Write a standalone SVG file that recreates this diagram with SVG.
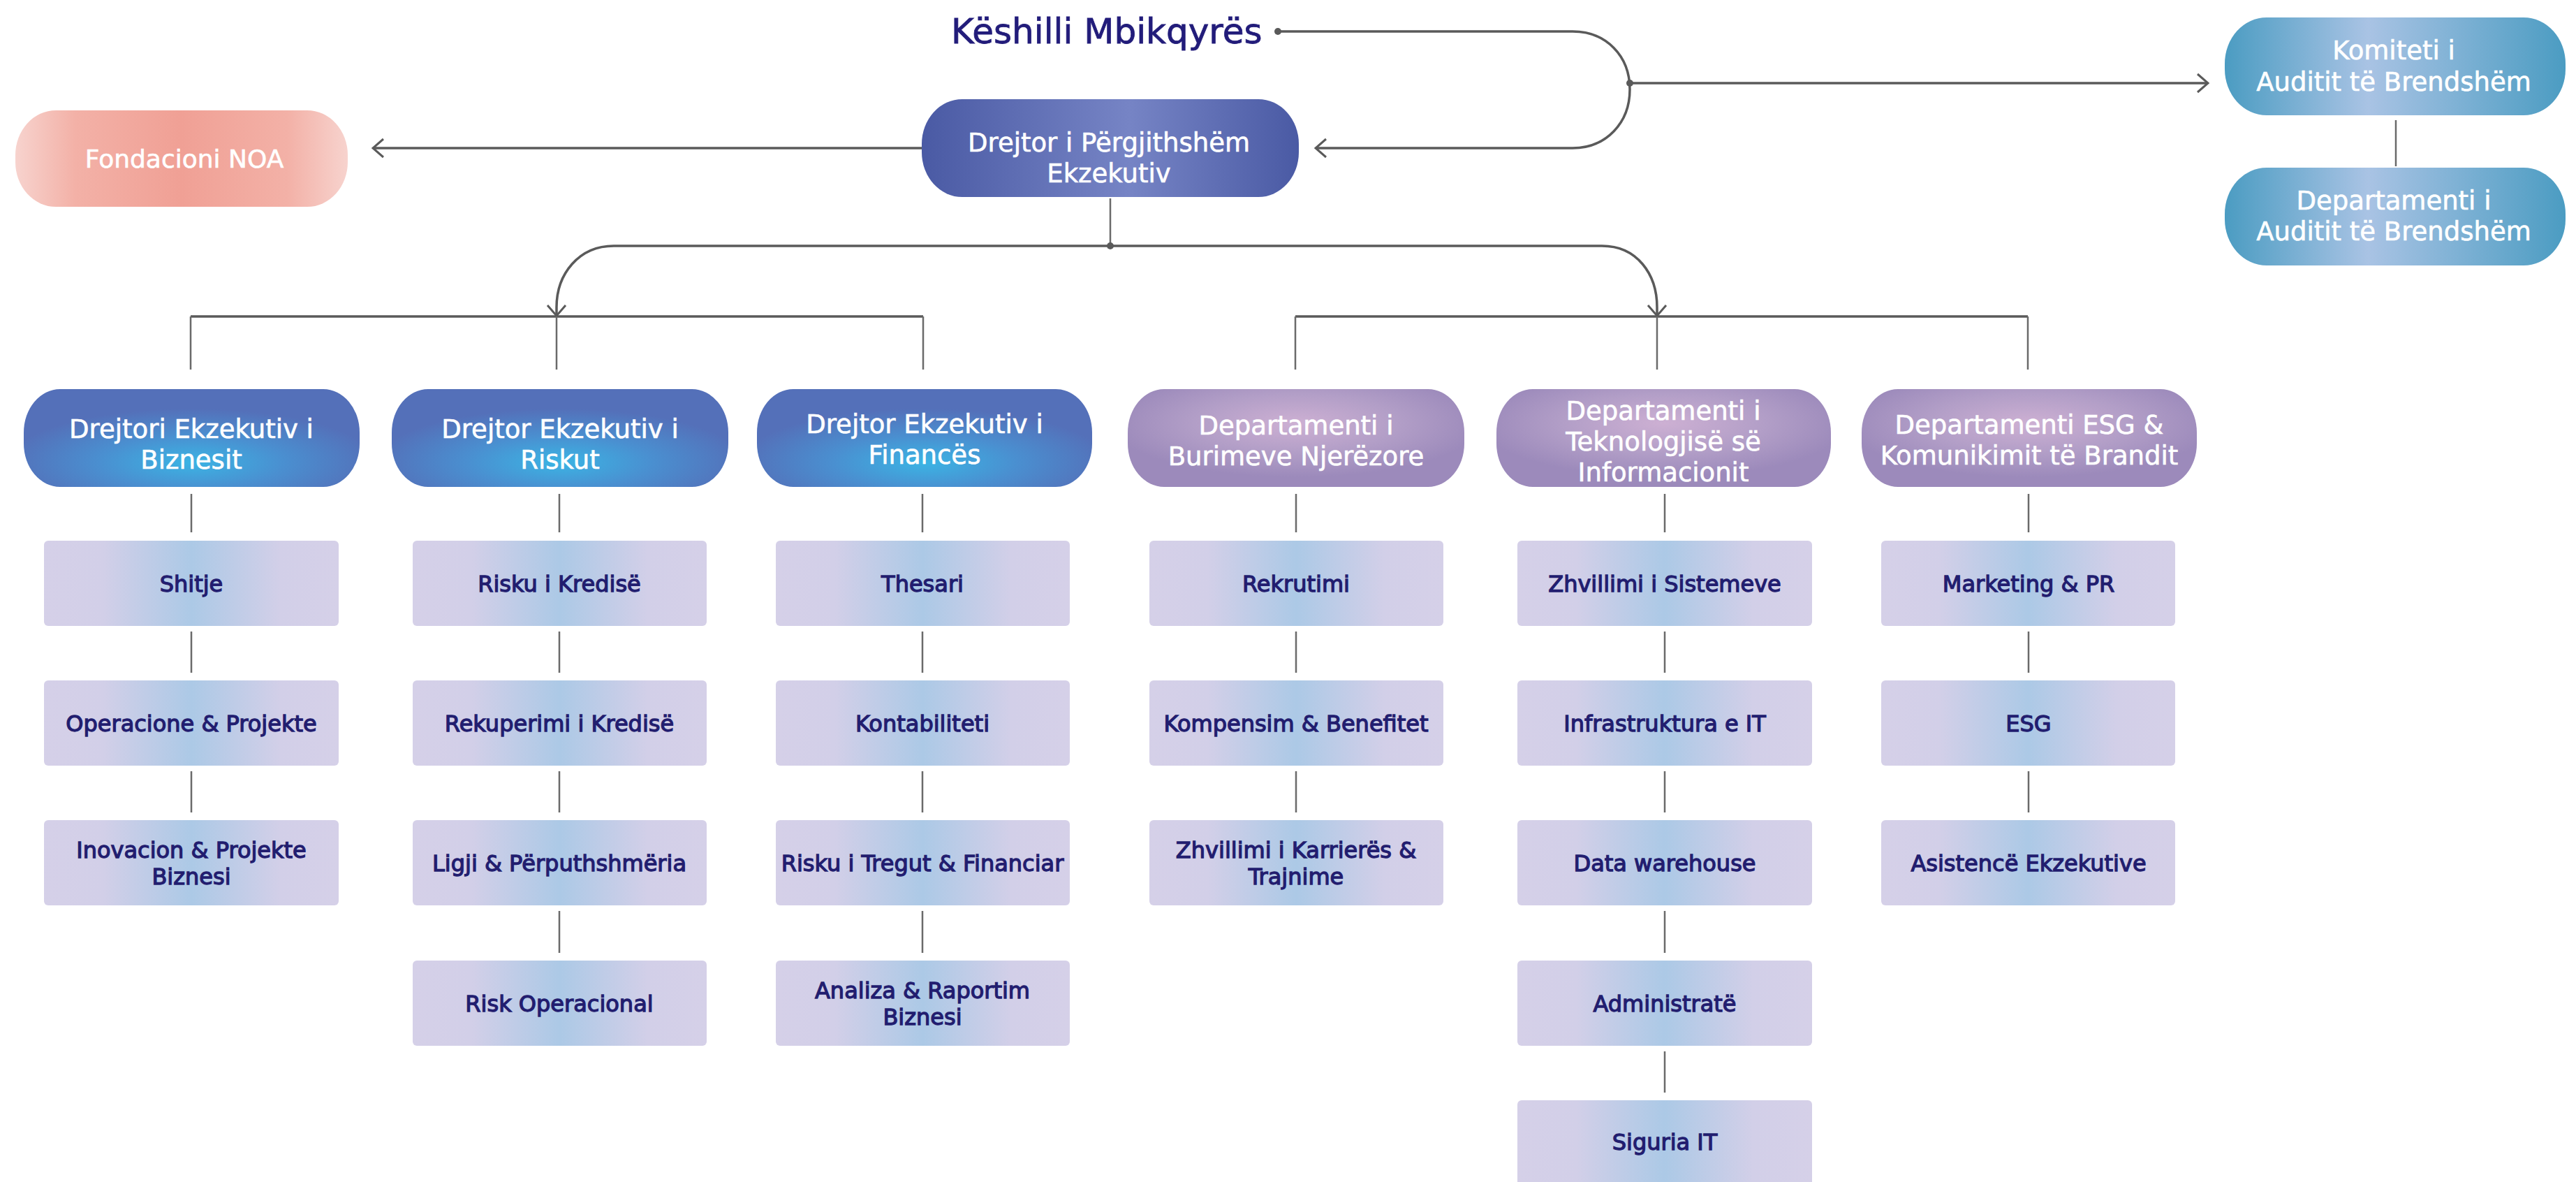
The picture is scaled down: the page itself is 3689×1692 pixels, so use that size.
<svg xmlns="http://www.w3.org/2000/svg" width="3689" height="1692" viewBox="0 0 3689 1692">
<style>
text{font-family:"DejaVu Sans","Liberation Sans",sans-serif;text-anchor:middle}
.wt{font-size:37px;fill:#ffffff;stroke:#ffffff;stroke-width:0.6}
.nt{font-size:32px;fill:#221d6f;stroke:#221d6f;stroke-width:1.3}
.title{font-size:50px;fill:#221c7a;stroke:#221c7a;stroke-width:0.8;text-anchor:start}
.ln{stroke:#5a5a5a;stroke-width:3.5;fill:none}
.tk{stroke:#6a6a6a;stroke-width:2.5;fill:none}
.l3{fill:url(#gL3)}
.b2{fill:url(#gBlue2)}
.p2{fill:url(#gPurp)}
</style>
<defs>
<linearGradient id="gL3" x1="0" y1="0" x2="1" y2="0">
<stop offset="0" stop-color="#d5d0e8"/>
<stop offset="0.2" stop-color="#d2cfe8"/>
<stop offset="0.5" stop-color="#acc9e6"/>
<stop offset="0.8" stop-color="#d2cfe8"/>
<stop offset="1" stop-color="#d5d0e8"/>
</linearGradient>
<radialGradient id="gBlue2" cx="0.5" cy="0.75" r="0.55">
<stop offset="0" stop-color="#3bb4e4"/>
<stop offset="0.5" stop-color="#4a8fd0"/>
<stop offset="1" stop-color="#5470b9"/>
</radialGradient>
<radialGradient id="gPurp" cx="0.5" cy="0.35" r="0.55">
<stop offset="0" stop-color="#cdb0d3"/>
<stop offset="0.55" stop-color="#b29ec7"/>
<stop offset="1" stop-color="#9c8abb"/>
</radialGradient>
<linearGradient id="gDark" x1="0" y1="0" x2="1" y2="0">
<stop offset="0" stop-color="#4a5aa4"/>
<stop offset="0.55" stop-color="#7684c5"/>
<stop offset="1" stop-color="#4a5aa4"/>
</linearGradient>
<linearGradient id="gTeal" x1="0" y1="0" x2="1" y2="0">
<stop offset="0" stop-color="#4b9cc2"/>
<stop offset="0.42" stop-color="#a9c3e4"/>
<stop offset="1" stop-color="#4b9cc2"/>
</linearGradient>
<linearGradient id="gSalmon" x1="0" y1="0" x2="1" y2="0">
<stop offset="0" stop-color="#f7d3ce"/>
<stop offset="0.18" stop-color="#f3b1a7"/>
<stop offset="0.5" stop-color="#f0a095"/>
<stop offset="0.82" stop-color="#f3b1a7"/>
<stop offset="1" stop-color="#f7d3ce"/>
</linearGradient>
<marker id="chev" viewBox="-18 -16 20 32" markerWidth="20" markerHeight="32" refX="0" refY="0" orient="auto" markerUnits="userSpaceOnUse">
<path d="M-15,-13 L0,0 L-15,13" fill="none" stroke="#5a5a5a" stroke-width="3"/>
</marker>
</defs>
<rect width="3689" height="1692" fill="#ffffff"/>

<g id="connectors">
<path class="ln" d="M1830,45 H2252 C2300,45 2334,80 2334,128 C2334,176 2300,212 2252,212 H1884" marker-end="url(#chev)"/>
<circle cx="1830" cy="45" r="5" fill="#5a5a5a"/>
<path class="ln" d="M2334,119 H3162" marker-end="url(#chev)"/>
<circle cx="2334" cy="119" r="5" fill="#5a5a5a"/>
<path class="tk" d="M3431,172 V238"/>
<path class="ln" d="M1320,212 H534" marker-end="url(#chev)"/>
<path class="tk" d="M1590,284 V352"/>
<path class="ln" d="M879,352 H2294"/>
<circle cx="1590" cy="352" r="5" fill="#5a5a5a"/>
<path class="ln" d="M879,352 C829,352 797,392 797,440 V452" marker-end="url(#chev)"/>
<path class="ln" d="M2294,352 C2344,352 2373,392 2373,440 V452" marker-end="url(#chev)"/>
<path class="ln" d="M273,453 H1322"/>
<path class="ln" d="M1855,453 H2904"/>
<path class="tk" d="M273,453 V529 M797,453 V529 M1322,453 V529 M1855,453 V529 M2373,453 V529 M2904,453 V529"/>
<path class="tk" d="M274,707 V762 M801,707 V762 M1321,707 V762 M1856,707 V762 M2384,707 V762 M2905,707 V762"/>
<path class="tk" d="M274,904 V963 M274,1104 V1163"/>
<path class="tk" d="M801,904 V963 M801,1104 V1163 M801,1304 V1364"/>
<path class="tk" d="M1321,904 V963 M1321,1104 V1163 M1321,1304 V1364"/>
<path class="tk" d="M1856,904 V963 M1856,1104 V1163"/>
<path class="tk" d="M2384,904 V963 M2384,1104 V1163 M2384,1304 V1364 M2384,1505 V1564"/>
<path class="tk" d="M2905,904 V963 M2905,1104 V1163"/>
</g>

<g id="keshilli">
<text class="title" x="1362" y="62">Këshilli Mbikqyrës</text>
</g>

<g id="drejtor-pergjithshem">
<rect x="1320" y="142" width="540" height="140" rx="58" ry="64" fill="url(#gDark)"/>
<text class="wt" x="1588" y="217">Drejtor i Përgjithshëm<tspan x="1588" dy="44">Ekzekutiv</tspan></text>
</g>

<g id="fondacioni">
<rect x="22" y="158" width="476" height="138" rx="58" ry="64" fill="url(#gSalmon)"/>
<text class="wt" x="264" y="240" style="font-size:36px">Fondacioni NOA</text>
</g>

<g id="komiteti">
<rect x="3186" y="25" width="488" height="140" rx="60" ry="66" fill="url(#gTeal)"/>
<text class="wt" x="3428" y="85">Komiteti i<tspan x="3428" dy="45">Auditit të Brendshëm</tspan></text>
</g>

<g id="dept-auditit">
<rect x="3186" y="240" width="488" height="140" rx="60" ry="66" fill="url(#gTeal)"/>
<text class="wt" x="3428" y="300">Departamenti i<tspan x="3428" dy="44">Auditit të Brendshëm</tspan></text>
</g>

<g id="dir-biznesit">
<rect class="b2" x="34" y="557" width="481" height="140" rx="52" ry="62"/>
<text class="wt" x="274" y="627">Drejtori Ekzekutiv i<tspan x="274" dy="44">Biznesit</tspan></text>
</g>
<g id="dir-riskut">
<rect class="b2" x="561" y="557" width="482" height="140" rx="52" ry="62"/>
<text class="wt" x="802" y="627">Drejtor Ekzekutiv i<tspan x="802" dy="44">Riskut</tspan></text>
</g>
<g id="dir-finances">
<rect class="b2" x="1084" y="557" width="480" height="140" rx="52" ry="62"/>
<text class="wt" x="1324" y="620">Drejtor Ekzekutiv i<tspan x="1324" dy="44">Financës</tspan></text>
</g>
<g id="dept-burimeve">
<rect class="p2" x="1615" y="557" width="482" height="140" rx="52" ry="62"/>
<text class="wt" x="1856" y="622">Departamenti i<tspan x="1856" dy="44">Burimeve Njerëzore</tspan></text>
</g>
<g id="dept-teknologjise">
<rect class="p2" x="2143" y="557" width="479" height="140" rx="52" ry="62"/>
<text class="wt" x="2382" y="601">Departamenti i<tspan x="2382" dy="44">Teknologjisë së</tspan><tspan x="2382" dy="44">Informacionit</tspan></text>
</g>
<g id="dept-esg">
<rect class="p2" x="2666" y="557" width="480" height="140" rx="52" ry="62"/>
<text class="wt" x="2906" y="621">Departamenti ESG &amp;<tspan x="2906" dy="44">Komunikimit të Brandit</tspan></text>
</g>

<g id="shitje"><rect class="l3" x="63" y="774" width="422" height="122" rx="6"/><text class="nt" x="274" y="847">Shitje</text></g>
<g id="operacione"><rect class="l3" x="63" y="974" width="422" height="122" rx="6"/><text class="nt" x="274" y="1047">Operacione &amp; Projekte</text></g>
<g id="inovacion"><rect class="l3" x="63" y="1174" width="422" height="122" rx="6"/><text class="nt" x="274" y="1228">Inovacion &amp; Projekte<tspan x="274" dy="38">Biznesi</tspan></text></g>

<g id="risku-kredise"><rect class="l3" x="591" y="774" width="421" height="122" rx="6"/><text class="nt" x="801" y="847">Risku i Kredisë</text></g>
<g id="rekuperimi"><rect class="l3" x="591" y="974" width="421" height="122" rx="6"/><text class="nt" x="801" y="1047">Rekuperimi i Kredisë</text></g>
<g id="ligji"><rect class="l3" x="591" y="1174" width="421" height="122" rx="6"/><text class="nt" x="801" y="1247">Ligji &amp; Përputhshmëria</text></g>
<g id="risk-operacional"><rect class="l3" x="591" y="1375" width="421" height="122" rx="6"/><text class="nt" x="801" y="1448">Risk Operacional</text></g>

<g id="thesari"><rect class="l3" x="1111" y="774" width="421" height="122" rx="6"/><text class="nt" x="1321" y="847">Thesari</text></g>
<g id="kontabiliteti"><rect class="l3" x="1111" y="974" width="421" height="122" rx="6"/><text class="nt" x="1321" y="1047">Kontabiliteti</text></g>
<g id="risku-tregut"><rect class="l3" x="1111" y="1174" width="421" height="122" rx="6"/><text class="nt" x="1321" y="1247">Risku i Tregut &amp; Financiar</text></g>
<g id="analiza"><rect class="l3" x="1111" y="1375" width="421" height="122" rx="6"/><text class="nt" x="1321" y="1429">Analiza &amp; Raportim<tspan x="1321" dy="38">Biznesi</tspan></text></g>

<g id="rekrutimi"><rect class="l3" x="1646" y="774" width="421" height="122" rx="6"/><text class="nt" x="1856" y="847">Rekrutimi</text></g>
<g id="kompensim"><rect class="l3" x="1646" y="974" width="421" height="122" rx="6"/><text class="nt" x="1856" y="1047">Kompensim &amp; Benefitet</text></g>
<g id="zhvillimi-karrieres"><rect class="l3" x="1646" y="1174" width="421" height="122" rx="6"/><text class="nt" x="1856" y="1228">Zhvillimi i Karrierës &amp;<tspan x="1856" dy="38">Trajnime</tspan></text></g>

<g id="zhvillimi-sistemeve"><rect class="l3" x="2173" y="774" width="422" height="122" rx="6"/><text class="nt" x="2384" y="847">Zhvillimi i Sistemeve</text></g>
<g id="infrastruktura"><rect class="l3" x="2173" y="974" width="422" height="122" rx="6"/><text class="nt" x="2384" y="1047">Infrastruktura e IT</text></g>
<g id="data-warehouse"><rect class="l3" x="2173" y="1174" width="422" height="122" rx="6"/><text class="nt" x="2384" y="1247">Data warehouse</text></g>
<g id="administrate"><rect class="l3" x="2173" y="1375" width="422" height="122" rx="6"/><text class="nt" x="2384" y="1448">Administratë</text></g>
<g id="siguria-it"><rect class="l3" x="2173" y="1575" width="422" height="122" rx="6"/><text class="nt" x="2384" y="1646">Siguria IT</text></g>

<g id="marketing"><rect class="l3" x="2694" y="774" width="421" height="122" rx="6"/><text class="nt" x="2905" y="847">Marketing &amp; PR</text></g>
<g id="esg"><rect class="l3" x="2694" y="974" width="421" height="122" rx="6"/><text class="nt" x="2905" y="1047">ESG</text></g>
<g id="asistence"><rect class="l3" x="2694" y="1174" width="421" height="122" rx="6"/><text class="nt" x="2905" y="1247">Asistencë Ekzekutive</text></g>
</svg>
